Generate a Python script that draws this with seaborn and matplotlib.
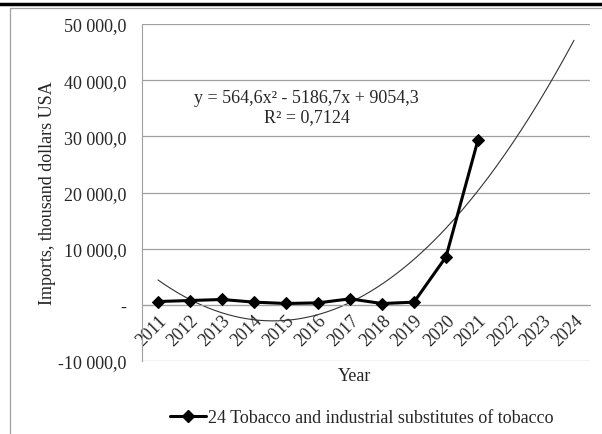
import numpy as np
import pandas as pd
import seaborn as sns
import matplotlib.pyplot as plt
from matplotlib.lines import Line2D
from matplotlib.ticker import FuncFormatter, FixedLocator

# data
years = [2011, 2012, 2013, 2014, 2015, 2016, 2017, 2018, 2019, 2020, 2021, 2022, 2023, 2024]
imports = [590, 770, 950, 480, 240, 350, 1070, 230, 480, 8540, 29360]
trend_coef = [564.6, -5186.7, 9054.3]
series_name = "24 Tobacco and industrial substitutes of tobacco"

sns.set_style("white")
plt.rcParams['font.family'] = ['Liberation Serif', 'DejaVu Serif']
FS = 13

fig = plt.figure(figsize=(6.02, 4.35), dpi=100)
ax = fig.add_axes([142 / 602, 1 - 362 / 435, (590 - 142) / 602, (362 - 25) / 435])

df = pd.DataFrame({"pos": np.arange(len(imports)), "value": imports})

# polynomial trend line, x = 1..14 as in Excel
xs = np.linspace(1, len(years), 200)
trend = np.polyval(trend_coef, xs)
ax.plot(xs - 1, trend, color="#333333", lw=0.8, zorder=2)

sns.lineplot(data=df, x="pos", y="value", ax=ax, color="black", lw=2.2,
             marker="D", markersize=6.5, markeredgecolor="black", zorder=3)

ax.set_xlim(-0.5, len(years) - 0.5)
ax.set_ylim(-10000, 50000)
ax.set_yticks(np.arange(-10000, 50001, 10000))


def fmt(v, pos):
    if v == 0:
        return "-"
    s = f"{abs(v):,.1f}".replace(",", " ").replace(".", ",")
    return ("-" if v < 0 else "") + s


ax.yaxis.set_major_formatter(FuncFormatter(fmt))
ax.grid(axis="y", color="#a0a0a0", lw=0.9)
ax.set_axisbelow(True)

for s in ["top", "right"]:
    ax.spines[s].set_visible(False)
ax.spines["left"].set_color("#a0a0a0")
ax.spines["bottom"].set_color("#a0a0a0")
ax.spines["bottom"].set_position(("data", 0))

ax.set_xticks(np.arange(len(years)))
ax.set_xticklabels(years, rotation=45, ha="right", va="top", rotation_mode="anchor")
ax.xaxis.set_minor_locator(FixedLocator(np.arange(-0.5, len(years), 1)))
ax.tick_params(axis="x", which="major", length=0, pad=5, labelsize=FS)
ax.tick_params(axis="x", which="minor", length=5, color="#a0a0a0", direction="out")
ax.tick_params(axis="y", length=5, color="#a0a0a0", direction="out", labelsize=FS, pad=6)

ax.set_xlabel("")
ax.set_ylabel("Imports, thousand dollars USA", fontsize=FS, labelpad=2)
fig.text(355 / 602, 1 - 377 / 435, "Year", ha="center", va="center", fontsize=FS)

ax.text(0.368, 0.754, "y = 564,6x² - 5186,7x + 9054,3\nR² = 0,7124",
        transform=ax.transAxes, ha="center", va="center", multialignment="center",
        fontsize=FS, linespacing=1.15)

handle = Line2D([], [], color="black", lw=2.2, marker="D", markersize=6.5)
fig.legend([handle], [series_name], loc="center", bbox_to_anchor=(362 / 602, 1 - 419 / 435),
           frameon=False, fontsize=FS, handlelength=2.0, handletextpad=0.1)

# frame pieces visible in the crop
fig.add_artist(Line2D([0, 1], [1 - 5 / 435, 1 - 5 / 435], color="black", lw=2.5))
fig.add_artist(Line2D([10 / 602, 1], [1 - 9 / 435, 1 - 9 / 435], color="#a0a0a0", lw=0.9))
fig.add_artist(Line2D([10 / 602, 10 / 602], [1 - 9 / 435, 0], color="#a0a0a0", lw=0.9))

fig.savefig("out.png", dpi=100)
